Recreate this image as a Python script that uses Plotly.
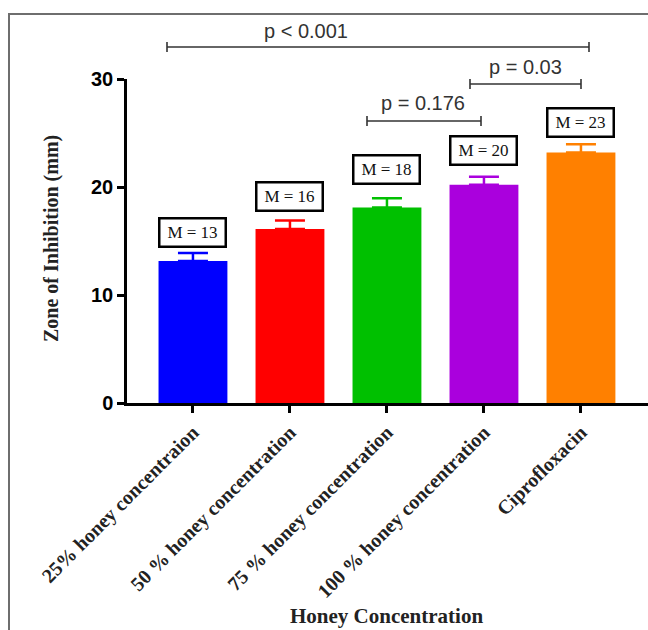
import plotly.graph_objects as go

categories = ["25% honey concentraion", "50 % honey concentration", "75 % honey concentration",
              "100 % honey concentration", "Ciprofloxacin"]
means = [13.15, 16.1, 18.1, 20.2, 23.2]
errors = [0.75, 0.8, 0.85, 0.75, 0.75]
colors = ["#0000FF", "#FF0000", "#00C000", "#AA00DD", "#FF8000"]
mean_labels = ["M = 13", "M = 16", "M = 18", "M = 20", "M = 23"]
label_y = [15.8, 19.1, 21.6, 23.4, 26.0]
y_ticks = [0, 10, 20, 30]
p_texts = ["p < 0.001", "p = 0.03", "p = 0.176"]

W, H = 648, 630
L, R, T, B = 127, 0, 79, 227
pw, ph = W - L - R, H - T - B
X0 = -0.68
STEP = 97.0

def px_x(px):
    return X0 + (px - L) / STEP

def py_paper(py):
    return (T + ph - py) / ph

# bracket geometry in pixels: (x_left, x_right, y_line, text_x, text_y)
brackets = [(167, 589, 47, 306, 31), (470, 581, 84, 525, 67), (367, 481, 121, 423, 103)]

fig = go.Figure()
for i, c in enumerate(colors):
    fig.add_trace(go.Bar(
        x=[i], y=[means[i]], width=0.71, name=categories[i],
        marker=dict(color=c, line=dict(width=0)),
        error_y=dict(type="data", array=[errors[i]], arrayminus=[0], color=c,
                     thickness=2.5, width=15),
        showlegend=False,
    ))

annotations = []
for i, (lab, ly) in enumerate(zip(mean_labels, label_y)):
    annotations.append(dict(x=i, y=ly, xref="x", yref="y", text=lab, showarrow=False,
                            font=dict(family="Liberation Serif", size=17, color="#111111"),
                            bordercolor="black", borderwidth=2.5, borderpad=3,
                            bgcolor="white", width=58, height=20))

shapes = []
for text, (xl, xr, yl, tx, ty) in zip(p_texts, brackets):
    x0, x1, yp = px_x(xl), px_x(xr), py_paper(yl)
    shapes.append(dict(type="line", xref="x", yref="paper", x0=x0, x1=x1, y0=yp, y1=yp,
                       line=dict(color="#333333", width=1.6)))
    for xe in (x0, x1):
        shapes.append(dict(type="line", xref="x", yref="paper", x0=xe, x1=xe,
                           y0=py_paper(yl + 5), y1=py_paper(yl - 5),
                           line=dict(color="#333333", width=1.6)))
    annotations.append(dict(x=px_x(tx), y=py_paper(ty), xref="x", yref="paper", text=text,
                            showarrow=False,
                            font=dict(family="Liberation Sans", size=20, color="#333333"),
                            xanchor="center", yanchor="middle"))

# outer gray frame
shapes.append(dict(type="rect", xref="paper", yref="paper",
                   x0=(9 - L) / pw, x1=(W + 10 - L) / pw,
                   y0=py_paper(H + 10), y1=py_paper(14),
                   line=dict(color="#6e6e6e", width=2)))

annotations.append(dict(x=(51 - L) / pw, y=py_paper(239), xref="paper", yref="paper",
                        text="<b>Zone of Inhibition (mm)</b>", textangle=-90, showarrow=False,
                        font=dict(family="Liberation Serif", size=20, color="#222222"),
                        xanchor="center", yanchor="middle"))
annotations.append(dict(x=(386 - L) / pw, y=py_paper(616), xref="paper", yref="paper",
                        text="<b>Honey Concentration</b>", showarrow=False,
                        font=dict(family="Liberation Serif", size=21, color="#222222"),
                        xanchor="center", yanchor="middle"))

fig.update_layout(
    width=W, height=H, margin=dict(l=L, r=R, t=T, b=B, autoexpand=False),
    paper_bgcolor="white", plot_bgcolor="white", barmode="overlay",
    shapes=shapes, annotations=annotations,
    xaxis=dict(range=[X0, X0 + pw / STEP], tickmode="array",
               tickvals=list(range(len(categories))),
               ticktext=[f"<b>{c}</b>" for c in categories], tickangle=-45,
               tickfont=dict(family="Liberation Serif", size=20, color="#222222"),
               showline=True, linecolor="black", linewidth=2.5, ticks="outside",
               ticklen=7, tickwidth=2.5, tickcolor="black", showgrid=False, zeroline=False),
    yaxis=dict(range=[0, 30], tickvals=y_ticks, ticktext=[f"<b>{t}</b>" for t in y_ticks],
               tickfont=dict(family="Liberation Sans", size=20, color="black"),
               showline=True, linecolor="black", linewidth=2.5, ticks="outside",
               ticklen=7, tickwidth=2.5, tickcolor="black", showgrid=False, zeroline=False),
)
fig.write_html("out.html", config={"displayModeBar": False},
               post_script="document.body.style.margin='0';document.body.style.overflow='hidden';")
